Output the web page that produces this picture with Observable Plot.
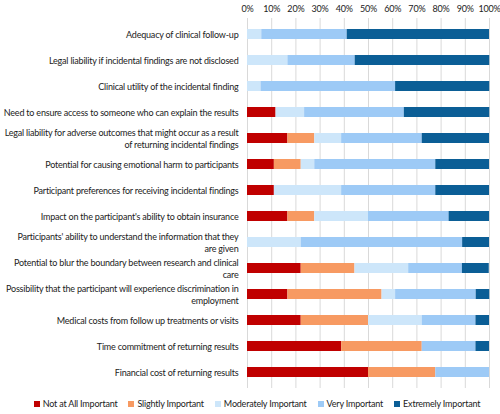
<!DOCTYPE html>
<html>
<head>
<meta charset="utf-8">
<script src="https://cdn.jsdelivr.net/npm/d3@7"></script>
<script src="https://cdn.jsdelivr.net/npm/@observablehq/plot@0.6"></script>
<style>
  html, body { margin: 0; padding: 0; background: #fff; }
  body { width: 500px; height: 414px; overflow: hidden; font-family: Lato, "Open Sans", sans-serif; }
  #legend { display: flex; justify-content: center; gap: 11px; font-size: 9px; letter-spacing: -0.2px; color: #222; margin-top: 6px; padding-left: 14px; white-space: nowrap; }
  #legend span.item { display: flex; align-items: center; }
  #legend span.sw { width: 6px; height: 6px; display: inline-block; margin-right: 3px; }
</style>
</head>
<body>
<div id="chart"></div>
<div id="legend"></div>
<script>
const questions = [
  "Adequacy of clinical follow-up",
  "Legal liability if incidental findings are not disclosed",
  "Clinical utility of the incidental finding",
  "Need to ensure access to someone who can explain the results",
  "Legal liability for adverse outcomes that might occur as a result\nof returning incidental findings",
  "Potential for causing emotional harm to participants",
  "Participant preferences for receiving incidental findings",
  "Impact on the participant's ability to obtain insurance",
  "Participants' ability to understand the information that they\nare given",
  "Potential to blur the boundary between research and clinical\ncare",
  "Possibility that the participant will experience discrimination in\nemployment",
  "Medical costs from follow up treatments or visits",
  "Time commitment of returning results",
  "Financial cost of returning results"
];
const levels = ["Not at All Important", "Slightly Important", "Moderately Important", "Very Important", "Extremely Important"];
const colors = ["#C00000", "#F79A62", "#CDE6FA", "#9DCAF6", "#0B5E96"];
// percentages per level, one entry per question (top to bottom)
const notAtAll   = [0, 0, 0, 11.8, 16.7, 11.1, 11.1, 16.7, 0, 22.2, 16.7, 22.2, 38.9, 50.0];
const slightly   = [0, 0, 0, 0, 11.1, 11.1, 0, 11.1, 0, 22.2, 38.9, 27.8, 33.3, 27.8];
const moderately = [5.9, 16.7, 5.6, 11.8, 11.1, 5.6, 27.8, 22.2, 22.2, 22.2, 5.6, 22.2, 0, 0];
const very       = [35.3, 27.8, 55.6, 41.2, 33.3, 50.0, 38.9, 33.3, 66.7, 22.2, 33.3, 22.2, 22.2, 22.2];
const extremely  = [58.8, 55.6, 38.9, 35.3, 27.8, 22.2, 22.2, 16.7, 11.1, 11.1, 5.6, 5.6, 5.6, 0];
const xTicks = [0, 0.1, 0.2, 0.3, 0.4, 0.5, 0.6, 0.7, 0.8, 0.9, 1];

const series = [notAtAll, slightly, moderately, very, extremely];
const rows = [];
questions.forEach((q, i) => {
  levels.forEach((lv, j) => {
    rows.push({question: q, level: lv, value: series[j][i] / 100});
  });
});

const chart = Plot.plot({
  width: 500,
  height: 392,
  marginLeft: 247,
  marginRight: 11,
  marginTop: 18,
  marginBottom: 4,
  style: {fontFamily: "Lato, 'Open Sans', sans-serif", fontSize: "9px", letterSpacing: "-0.2px", color: "#222", overflow: "visible"},
  x: {domain: [0, 1], ticks: xTicks},
  y: {domain: questions, paddingInner: 0.6, paddingOuter: 0.3},
  color: {domain: levels, range: colors},
  marks: [
    Plot.gridX(xTicks, {stroke: "#d9d9d9", strokeOpacity: 1, strokeWidth: 1}),
    Plot.axisX(xTicks, {anchor: "top", tickSize: 0, tickPadding: 7, tickFormat: d3.format(".0%"), label: null, fontSize: 9}),
    Plot.axisY({tickSize: 0, tickPadding: 9, label: null, lineWidth: 100, lineHeight: 1.25, fontSize: 9}),
    Plot.barX(rows, Plot.stackX({y: "question", x: "value", fill: "level", order: levels}))
  ]
});
document.getElementById("chart").appendChild(chart);

const legend = document.getElementById("legend");
levels.forEach((lv, j) => {
  const item = document.createElement("span");
  item.className = "item";
  const sw = document.createElement("span");
  sw.className = "sw";
  sw.style.background = colors[j];
  item.appendChild(sw);
  item.appendChild(document.createTextNode(lv));
  legend.appendChild(item);
});
</script>
</body>
</html>
